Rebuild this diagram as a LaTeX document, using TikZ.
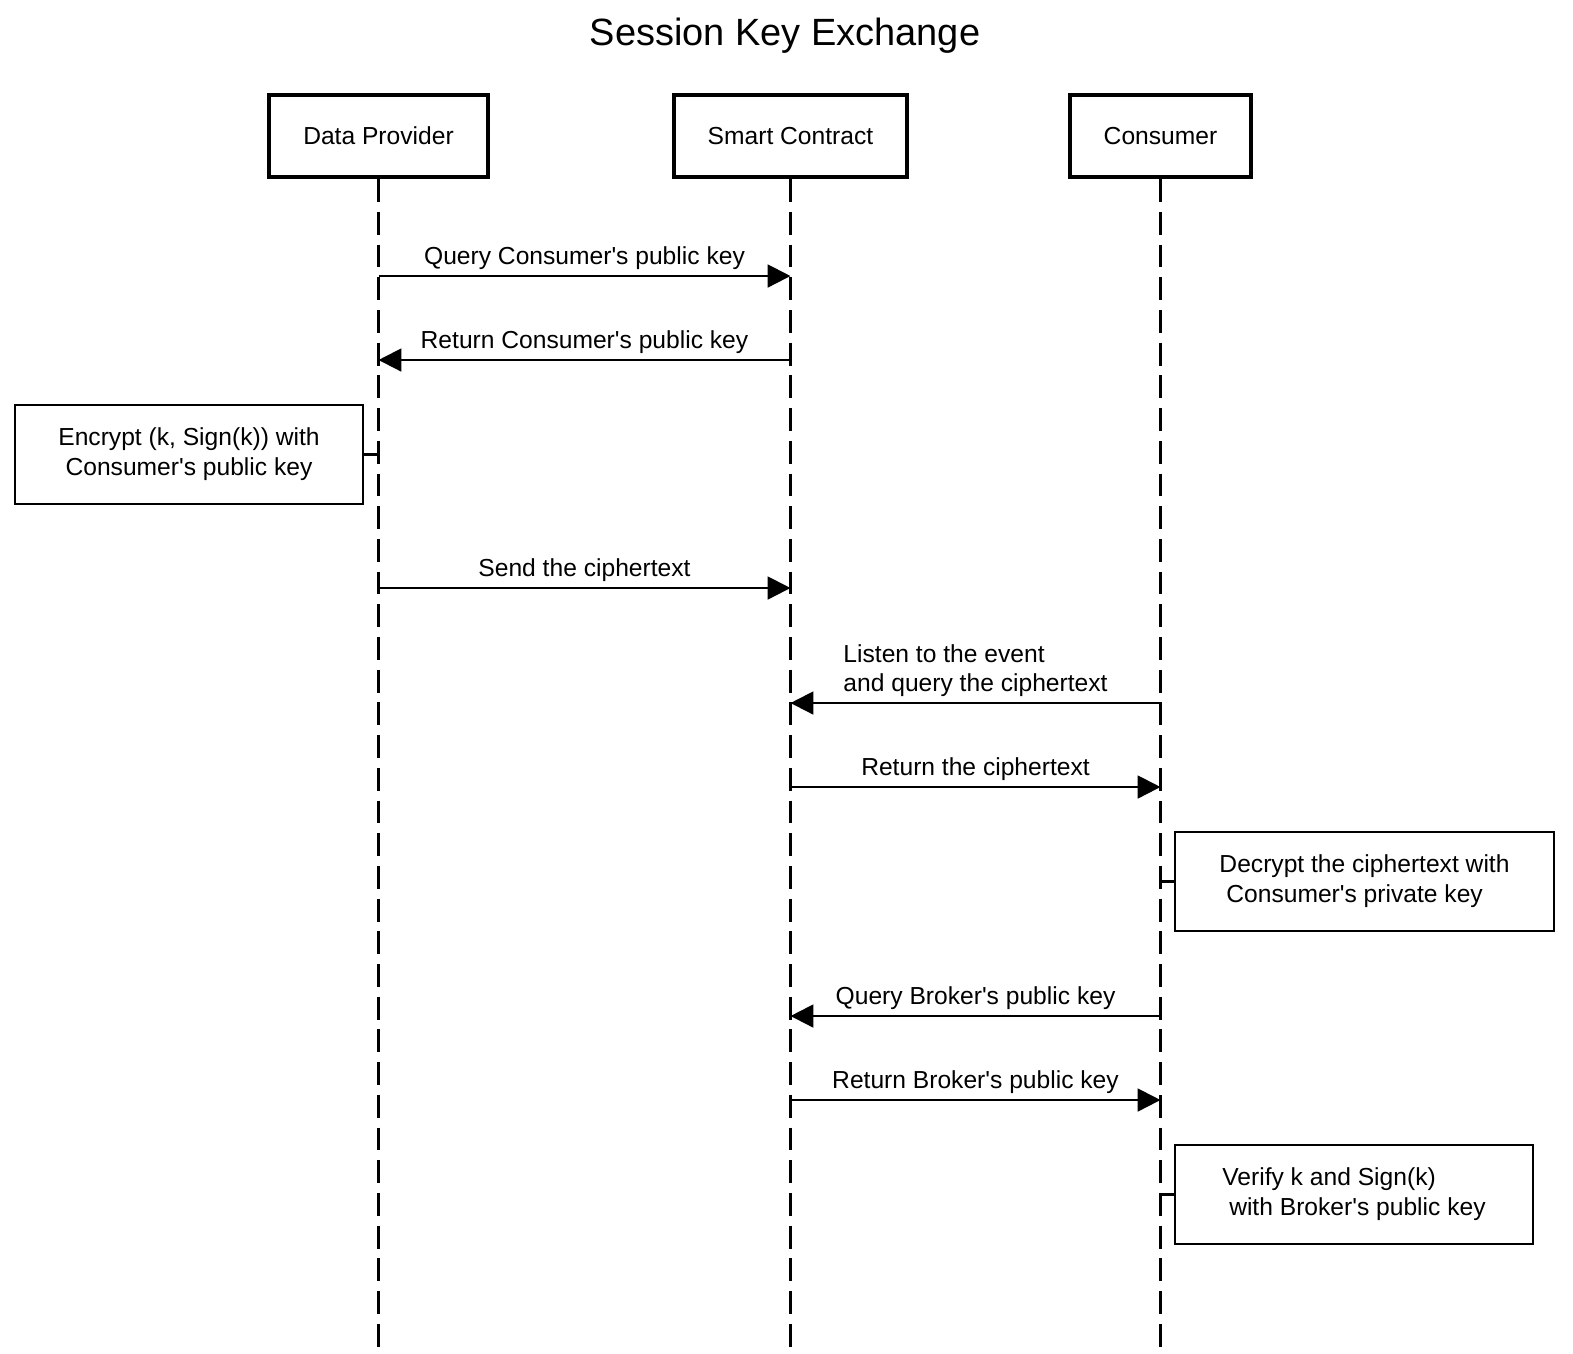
\documentclass[tikz,border=0pt]{standalone}
\usepackage{fontspec}
\setmainfont{Liberation Sans}
\usetikzlibrary{arrows.meta,positioning}

\newcommand{\apos}{\textquotesingle}

\begin{document}
\begin{tikzpicture}[x=0.01cm, y=-0.01cm, font=\fontsize{7}{8.5}\selectfont,
	actor/.style={draw, line width=1.2pt, minimum height=0.82cm, inner sep=0pt},
	note/.style={draw, line width=0.6pt, minimum height=0.99cm, inner sep=0pt},
	life/.style={line width=0.6pt, dash pattern=on 6.5pt off 2.8pt},
	msg/.style={line width=0.6pt, -{Triangle[length=6.5pt, width=6.5pt]}},
	lbl/.style={above=1.4pt, inner sep=0pt, align=left}]
			
			\useasboundingbox (0,0) rectangle (1573,1353);
			
			% Title
			\node (title) at (785,36) {\fontsize{10.8}{13}\selectfont Session Key Exchange};
			
			% Actors
			\node[actor, minimum width=2.19cm] (dp) at (378.5,136) {Data Provider};
			\node[actor, minimum width=2.33cm] (sc) at (790.5,136) {Smart Contract};
			\node[actor, minimum width=1.81cm] (co) at (1160.5,136) {Consumer};
			
			% Lifelines
			\coordinate (dpEnd) at (dp |- 0,1353);
			\coordinate (scEnd) at (sc |- 0,1353);
			\coordinate (coEnd) at (co |- 0,1353);
			\draw[life] (dp.south) -- (dpEnd);
			\draw[life] (sc.south) -- (scEnd);
			\draw[life] (co.south) -- (coEnd);
			
			% Message ends on the lifelines
			\coordinate (dp1) at (dp |- 0,276);  \coordinate (sc1) at (sc |- 0,276);
			\coordinate (dp2) at (dp |- 0,360);  \coordinate (sc2) at (sc |- 0,360);
			\coordinate (dp3) at (dp |- 0,588);  \coordinate (sc3) at (sc |- 0,588);
			\coordinate (sc4) at (sc |- 0,703);  \coordinate (co4) at (co |- 0,703);
			\coordinate (sc5) at (sc |- 0,787);  \coordinate (co5) at (co |- 0,787);
			\coordinate (sc6) at (sc |- 0,1016); \coordinate (co6) at (co |- 0,1016);
			\coordinate (sc7) at (sc |- 0,1100); \coordinate (co7) at (co |- 0,1100);
			
			% Messages
			\draw[msg] (dp1) -- node[lbl] {Query Consumer\apos s public key} (sc1);
			\draw[msg] (sc2) -- node[lbl] {Return Consumer\apos s public key} (dp2);
			\draw[msg] (dp3) -- node[lbl] {Send the ciphertext} (sc3);
			\draw[msg] (co4) -- node[lbl] {Listen to the event\\and query the ciphertext} (sc4);
			\draw[msg] (sc5) -- node[lbl] {Return the ciphertext} (co5);
			\draw[msg] (co6) -- node[lbl] {Query Broker\apos s public key} (sc6);
			\draw[msg] (sc7) -- node[lbl] {Return Broker\apos s public key} (co7);
			
			% Notes
			\node[note, minimum width=3.48cm, align=center] (enc) at (189,454.5) {Encrypt (k, Sign(k)) with\\Consumer\apos s public key};
			\node[note, minimum width=3.79cm, align=left] (dec) at (1364.5,881.5) {Decrypt the ciphertext with\\\hspace*{.28em}Consumer\apos s private key};
			\node[note, minimum width=3.58cm, align=left] (ver) at (1354,1194.5) {Verify k and Sign(k)\\\hspace*{.28em}with Broker\apos s public key};
			
			\draw[line width=0.6pt] (enc.east) -- (enc -| dp);
			\draw[line width=0.6pt] (dec.west) -- (dec -| co);
			\draw[line width=0.6pt] (ver.west) -- (ver -| co);
			
		\end{tikzpicture}
\end{document}
